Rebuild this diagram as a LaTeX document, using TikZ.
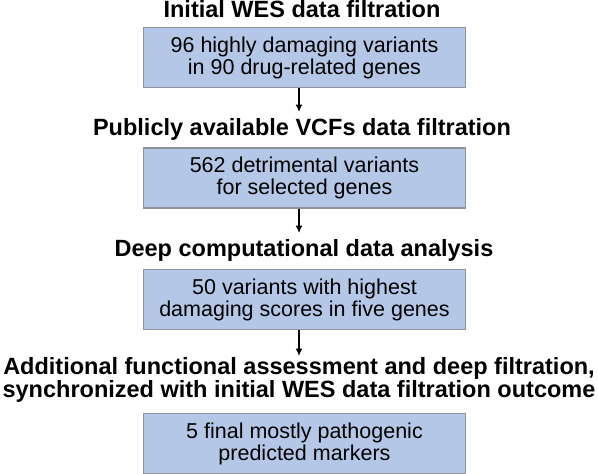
\documentclass[tikz,border=0pt]{standalone}
\usepackage{fontspec}
\setmainfont{Liberation Sans}
\usetikzlibrary{shapes}
\usetikzlibrary{arrows.meta}
\definecolor{boxfill}{HTML}{B4C7E7}
\definecolor{boxline}{HTML}{8E939C}
\begin{document}
\begin{tikzpicture}[x=1pt, y=-1pt,
	title/.style={anchor=north, inner sep=0pt, align=center, font=\bfseries\fontsize{23.5}{23}\selectfont},
	stage/.style={rectangle, draw=boxline, fill=boxfill, line width=1.2pt, minimum width=322pt, minimum height=60pt, align=center, font=\fontsize{21.5}{22}\selectfont},
	flow/.style={-{Latex[length=7.5pt,width=7pt]}, line width=1.3pt, shorten >=6pt}]
				\useasboundingbox (0,0) rectangle (598,474);
				\node[title] (t1) at (302,0) {Initial WES data filtration};
				\node[title] (t2) at (302,118) {Publicly available VCFs data filtration};
				\node[title] (t3) at (304,239) {Deep computational data analysis};
				\node[title] (t4) at (299,357) {Additional functional assessment and deep filtration,\\synchronized with initial WES data filtration outcome};
				\node[stage] (b1) at (304.5,57.5) {96 highly damaging variants\\in 90 drug-related genes};
				\node[stage] (b2) at (304.5,178) {562 detrimental variants\\for selected genes};
				\node[stage] (b3) at (304.5,299.5) {50 variants with highest\\damaging scores in five genes};
				\node[stage] (b4) at (304.5,443.5) {5 final mostly pathogenic\\predicted markers};
				\draw[flow] ([xshift=-5.5pt]b1.south) -- ([xshift=-5.5pt]b1.south |- t2.north);
				\draw[flow] ([xshift=-5.5pt]b2.south) -- ([xshift=-5.5pt]b2.south |- t3.north);
				\draw[flow, shorten >=1pt] ([xshift=-5.5pt]b3.south) -- ([xshift=-5.5pt]b3.south |- t4.north);
			\end{tikzpicture}
\end{document}
